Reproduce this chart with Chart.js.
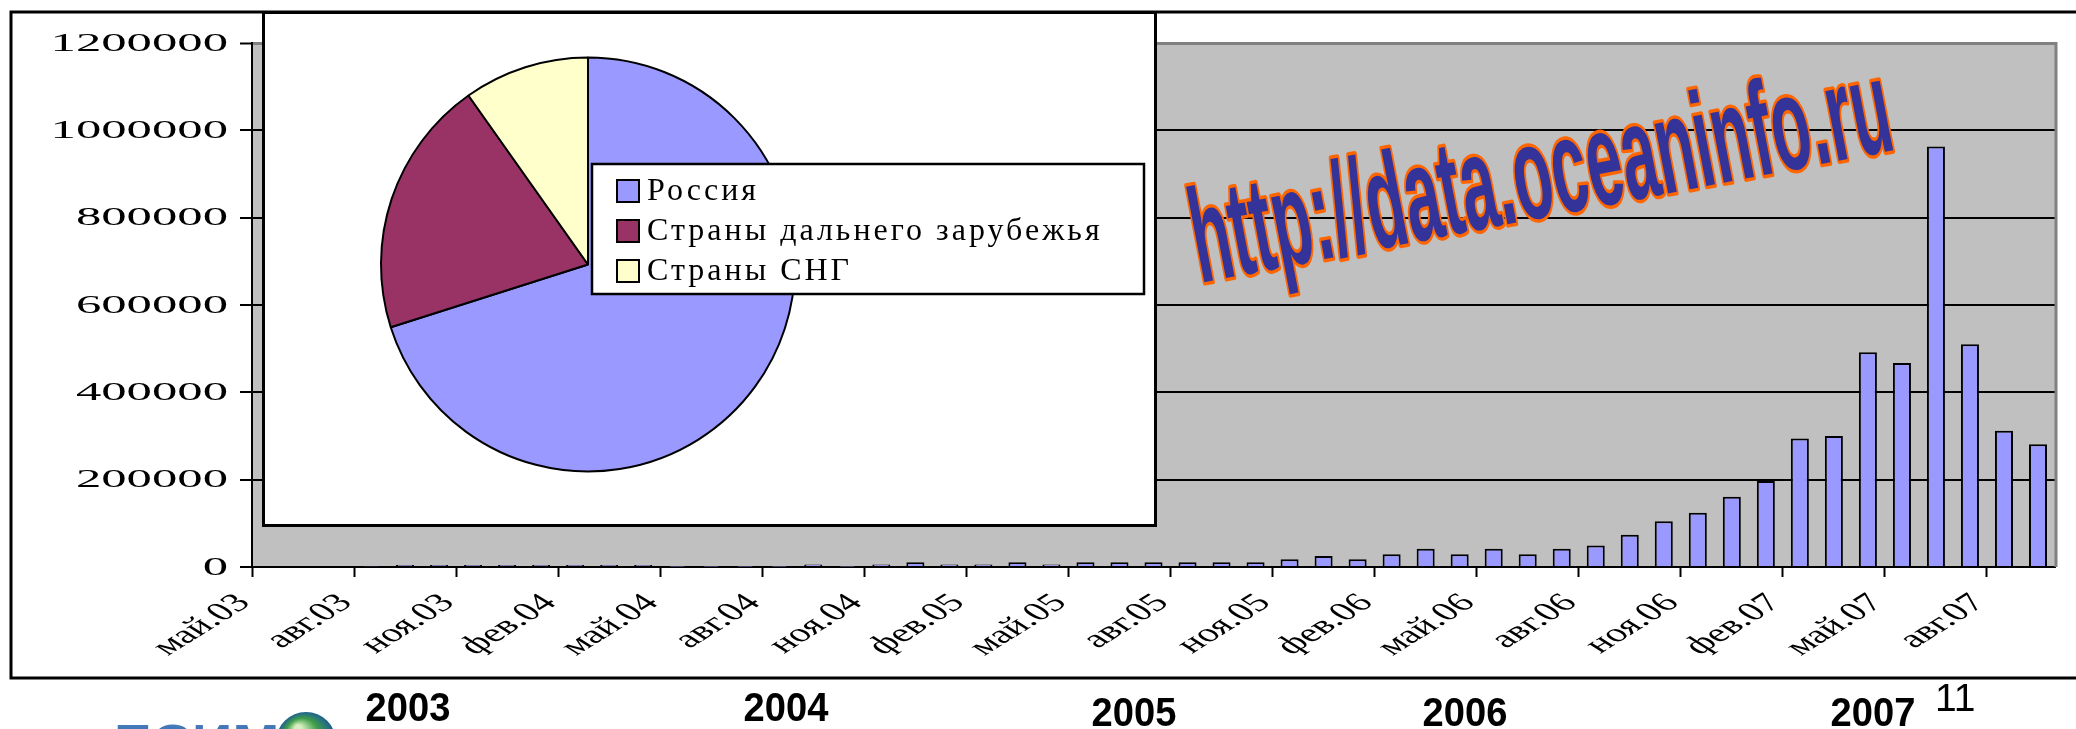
<!DOCTYPE html>
<html>
<head>
<meta charset="utf-8">
<script src="https://cdn.jsdelivr.net/npm/chart.js@4.4.0/dist/chart.umd.min.js"></script>
<style>
  html, body { margin: 0; padding: 0; background: #fff; overflow: hidden; }
  #main { position: absolute; left: 0; top: 0; width: 2076px; height: 729px; }
  #pieBox { position: absolute; left: 262px; top: 11px; width: 889px; height: 510px; border: 3px solid #000; background: #fff; }
</style>
</head>
<body>
<div id="main"><canvas id="barChart"></canvas></div>
<div id="pieBox"><canvas id="pieChart"></canvas></div>
<script>
// monthly values, май.03 .. сен.07
const months = [
  'май.03', 'июн.03', 'июл.03', 'авг.03', 'сен.03', 'окт.03', 'ноя.03', 'дек.03',
  'янв.04', 'фев.04', 'мар.04', 'апр.04', 'май.04', 'июн.04', 'июл.04', 'авг.04', 'сен.04', 'окт.04', 'ноя.04', 'дек.04',
  'янв.05', 'фев.05', 'мар.05', 'апр.05', 'май.05', 'июн.05', 'июл.05', 'авг.05', 'сен.05', 'окт.05', 'ноя.05', 'дек.05',
  'янв.06', 'фев.06', 'мар.06', 'апр.06', 'май.06', 'июн.06', 'июл.06', 'авг.06', 'сен.06', 'окт.06', 'ноя.06', 'дек.06',
  'янв.07', 'фев.07', 'мар.07', 'апр.07', 'май.07', 'июн.07', 'июл.07', 'авг.07', 'сен.07'
];
const values = [
  0, 0, 0, 1000, 4500, 4500, 4500, 4500,
  4500, 4500, 4500, 4500, 500, 500, 500, 500, 5500, 500, 5500, 11000,
  5500, 5500, 11000, 5500, 11000, 11000, 11000, 11000, 11000, 11000, 18000, 25000,
  18000, 29000, 42000, 29000, 42000, 29000, 42000, 49000, 74000, 105000, 124000, 161000,
  197000, 294000, 300000, 492000, 467000, 963000, 510000, 312000, 281000
];
const yTicks = [0, 200000, 400000, 600000, 800000, 1000000, 1200000];
const years = ['2003', '2004', '2005', '2006', '2007'];
const pageNumber = '11';

const pieLabels = ['Россия', 'Страны дальнего зарубежья', 'Страны СНГ'];
const pieValues = [70.1, 20.1, 9.8];
const pieColors = ['#9999FF', '#993366', '#FFFFCC'];

const watermark = 'http://data.oceaninfo.ru';

// where the year captions sit under the frame
const yearPos = [[408, 721], [786, 721], [1134, 726], [1465, 726], [1873, 726]];

const decor = {
  id: 'decor',
  beforeDraw(chart) {
    const { ctx, chartArea: a } = chart;
    ctx.save();
    ctx.fillStyle = '#fff';
    ctx.fillRect(0, 0, chart.width, chart.height);
    ctx.fillStyle = '#C0C0C0';
    ctx.fillRect(a.left, a.top, a.right - a.left, a.bottom - a.top);
    ctx.restore();
  },
  afterDraw(chart) {
    const { ctx, chartArea: a } = chart;
    const xs = chart.scales.x, ys = chart.scales.y;
    ctx.save();

    // plot area right edge
    ctx.strokeStyle = '#808080';
    ctx.lineWidth = 3;
    ctx.beginPath();
    ctx.moveTo(a.right + 1, a.top - 1);
    ctx.lineTo(a.right + 1, a.bottom);
    ctx.stroke();

    // y labels (stretched, like the original)
    ctx.fillStyle = '#000';
    ctx.font = '26px "Liberation Serif"';
    ctx.textAlign = 'right';
    ctx.textBaseline = 'middle';
    yTicks.forEach(v => {
      const y = ys.getPixelForValue(v);
      ctx.save();
      ctx.translate(a.left - 24, y + 1);
      ctx.scale(1.95, 1);
      ctx.fillText(String(v), 0, 0);
      ctx.restore();
    });

    // x labels every 3 months at the tick marks
    const half = (xs.getPixelForValue(1) - xs.getPixelForValue(0)) / 2;
    ctx.font = '26px "Liberation Serif"';
    months.forEach((m, i) => {
      if (i % 3) return;
      const x = xs.getPixelForValue(i) - half;
      ctx.save();
      ctx.translate(x - 8, a.bottom + 32);
      ctx.scale(1.6, 1);
      ctx.rotate(-Math.PI / 4);
      ctx.fillText(m, 0, 0);
      ctx.restore();
    });

    // watermark
    ctx.save();
    ctx.translate(1200, 283);
    ctx.rotate(Math.atan2(-99, 517));
    ctx.font = 'bold 134px "Liberation Sans"';
    ctx.textAlign = 'left';
    ctx.textBaseline = 'alphabetic';
    const w = ctx.measureText(watermark).width;
    ctx.scale(710 / w, 1);
    ctx.lineJoin = 'round';
    ctx.strokeStyle = '#FF6600';
    ctx.lineWidth = 7;
    ctx.strokeText(watermark, 0, 0);
    ctx.fillStyle = '#333399';
    ctx.fillText(watermark, 0, 0);
    ctx.restore();

    // outer frame
    ctx.strokeStyle = '#000';
    ctx.lineWidth = 3;
    ctx.strokeRect(11, 12, 2100, 666);

    // years and page number
    ctx.fillStyle = '#000';
    ctx.textAlign = 'center';
    ctx.textBaseline = 'alphabetic';
    ctx.font = 'bold 41px "Liberation Sans"';
    years.forEach((t, i) => {
      ctx.save();
      ctx.translate(yearPos[i][0], yearPos[i][1]);
      ctx.scale(0.93, 1);
      ctx.fillText(t, 0, 0);
      ctx.restore();
    });
    ctx.font = '39px "Liberation Sans"';
    ctx.textAlign = 'left';
    ctx.fillText(pageNumber, 1935, 711);

    // logo, cut by the bottom edge
    ctx.save();
    ctx.translate(114, 761);
    ctx.scale(1.08, 1);
    ctx.font = 'bold 52px "Liberation Sans"';
    const lg = ctx.createLinearGradient(0, -40, 0, 0);
    lg.addColorStop(0, '#4a7fc0');
    lg.addColorStop(1, '#1a4f8f');
    ctx.fillStyle = lg;
    ctx.fillText('ЕСИМ', 0, 0);
    ctx.restore();
    const gg = ctx.createRadialGradient(298, 728, 3, 306, 742, 30);
    gg.addColorStop(0, '#d8f0c0');
    gg.addColorStop(0.5, '#3f9f4a');
    gg.addColorStop(1, '#1f5f8f');
    ctx.fillStyle = gg;
    ctx.beginPath();
    ctx.arc(306, 742, 30, 0, Math.PI * 2);
    ctx.fill();

    ctx.restore();
  }
};

new Chart(document.getElementById('barChart'), {
  type: 'bar',
  data: {
    labels: months,
    datasets: [{
      data: values,
      backgroundColor: '#9999FF',
      borderColor: '#000',
      borderWidth: 2,
      barPercentage: 0.53,
      categoryPercentage: 1
    }]
  },
  options: {
    responsive: true,
    maintainAspectRatio: false,
    animation: false,
    layout: { padding: { left: 240, top: 43, right: 21, bottom: 152 } },
    plugins: { legend: { display: false }, tooltip: { enabled: false } },
    scales: {
      x: {
        offset: true,
        grid: {
          offset: true,
          drawOnChartArea: false,
          tickLength: 10,
          tickWidth: 2,
          tickColor: c => (c.index % 3 === 0 ? '#000' : 'rgba(0,0,0,0)')
        },
        border: { color: '#000', width: 2 },
        ticks: { display: false }
      },
      y: {
        min: 0,
        max: 1200000,
        ticks: { display: false, stepSize: 200000 },
        grid: {
          color: c => (c.tick && c.tick.value === 1200000 ? '#808080' : '#000'),
          lineWidth: c => (c.tick && c.tick.value === 1200000 ? 3 : 2),
          tickLength: 12,
          tickWidth: 2,
          tickColor: '#000'
        },
        border: { color: '#000', width: 2 }
      }
    }
  },
  plugins: [decor]
});

// legend drawn inside the pie box, over the pie
const pieLegend = {
  id: 'pieLegend',
  afterDraw(chart) {
    const ctx = chart.ctx;
    ctx.save();
    ctx.fillStyle = '#fff';
    ctx.fillRect(327, 150, 552, 130);
    ctx.strokeStyle = '#000';
    ctx.lineWidth = 2.5;
    ctx.strokeRect(327, 150, 552, 130);
    ctx.font = '32px "Liberation Serif"';
    ctx.textBaseline = 'middle';
    ctx.textAlign = 'left';
    ctx.letterSpacing = '3px';
    pieLabels.forEach((t, i) => {
      const cy = 177 + 40 * i;
      ctx.fillStyle = pieColors[i];
      ctx.fillRect(352, cy - 11, 22, 22);
      ctx.lineWidth = 2;
      ctx.strokeRect(352, cy - 11, 22, 22);
      ctx.fillStyle = '#000';
      ctx.fillText(t, 382, cy + 1);
    });
    ctx.restore();
  }
};

new Chart(document.getElementById('pieChart'), {
  type: 'pie',
  data: {
    labels: pieLabels,
    datasets: [{
      data: pieValues,
      backgroundColor: pieColors,
      borderColor: '#000',
      borderWidth: 2
    }]
  },
  options: {
    responsive: true,
    maintainAspectRatio: false,
    animation: false,
    layout: { padding: { left: 115, top: 42.5, right: 358, bottom: 51.5 } },
    plugins: { legend: { display: false }, tooltip: { enabled: false } }
  },
  plugins: [pieLegend]
});
</script>
</body>
</html>
